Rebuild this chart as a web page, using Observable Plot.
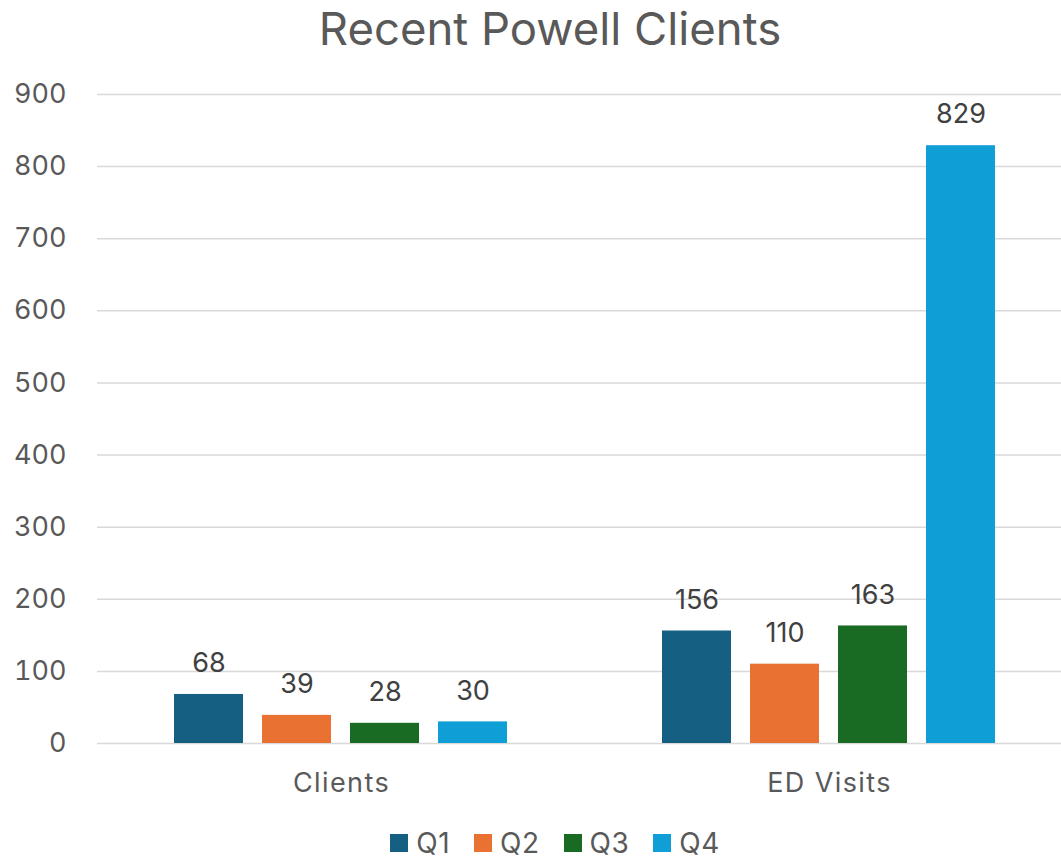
<!DOCTYPE html>
<html>
<head>
<meta charset="utf-8">
<script src="https://cdn.jsdelivr.net/npm/d3@7"></script>
<script src="https://cdn.jsdelivr.net/npm/@observablehq/plot@0.6"></script>
<style>
  body { margin: 0; background: #fff; font-family: Inter, "Open Sans", sans-serif; width: 1061px; height: 860px; overflow: hidden; position: relative; }
  #title { position: absolute; top: 0; left: 0; width: 1100px; height: 58px; text-align: center; font-size: 45.5px; line-height: 58px; color: #595959; }
  #chart { position: absolute; top: 60px; left: 0; }
  #legend { position: absolute; top: 830px; left: 10px; width: 1090px; height: 26px; display: flex; justify-content: center; gap: 24px; font-size: 28px; line-height: 26px; color: #595959; }
  #legend span.item { display: inline-flex; align-items: center; gap: 8px; height: 26px; letter-spacing: 0.5px; }
  #legend span.sw { display: inline-block; width: 18px; height: 18px; }
  #chart svg g[aria-label="fx-axis tick label"] text { letter-spacing: 1.4px; }
</style>
</head>
<body>
<div id="title">Recent Powell Clients</div>
<div id="chart"></div>
<div id="legend"></div>
<script>
const categories = ["Clients", "ED Visits"];
const quarters = ["Q1", "Q2", "Q3", "Q4"];
const clientsValues = [68, 39, 28, 30];
const edVisitsValues = [156, 110, 163, 829];
const colors = ["#156082", "#E97132", "#196B24", "#0F9ED5"];
const yTicks = [0, 100, 200, 300, 400, 500, 600, 700, 800, 900];

const seriesByCategory = [clientsValues, edVisitsValues];
const data = [];
categories.forEach((c, i) => quarters.forEach((q, j) => data.push({category: c, quarter: q, value: seriesByCategory[i][j]})));

const chart = Plot.plot({
  width: 1061,
  height: 760,
  marginLeft: 96,
  marginRight: -12,
  marginTop: 34,
  marginBottom: 77,
  style: {fontFamily: "Inter, 'Open Sans', sans-serif", fontSize: "27px", color: "#595959", background: "transparent", overflow: "visible"},
  fx: {domain: categories, padding: 0, label: null},
  x: {domain: quarters, paddingInner: 0.213, paddingOuter: 0.853, axis: null},
  y: {domain: [0, 900], ticks: yTicks, label: null},
  color: {domain: quarters, range: colors},
  marks: [
    Plot.gridY(yTicks, {stroke: "#d9d9d9", strokeOpacity: 1, strokeWidth: 1.5}),
    Plot.axisY(yTicks, {tickSize: 0, tickPadding: 31, fontSize: 27, fill: "#595959", label: null}),
    Plot.axisFx({anchor: "bottom", tickSize: 0, tickPadding: 29, fontSize: 27, fill: "#595959", label: null}),
    Plot.barY(data, {fx: "category", x: "quarter", y: "value", fill: "quarter"}),
    Plot.text(data, {fx: "category", x: "quarter", y: "value", text: d => String(d.value), dy: -31, fontSize: 27, fill: "#404040"})
  ]
});
document.getElementById("chart").appendChild(chart);

const legend = document.getElementById("legend");
quarters.forEach((q, i) => {
  const item = document.createElement("span");
  item.className = "item";
  const sw = document.createElement("span");
  sw.className = "sw";
  sw.style.background = colors[i];
  item.appendChild(sw);
  item.appendChild(document.createTextNode(q));
  legend.appendChild(item);
});
</script>
</body>
</html>
